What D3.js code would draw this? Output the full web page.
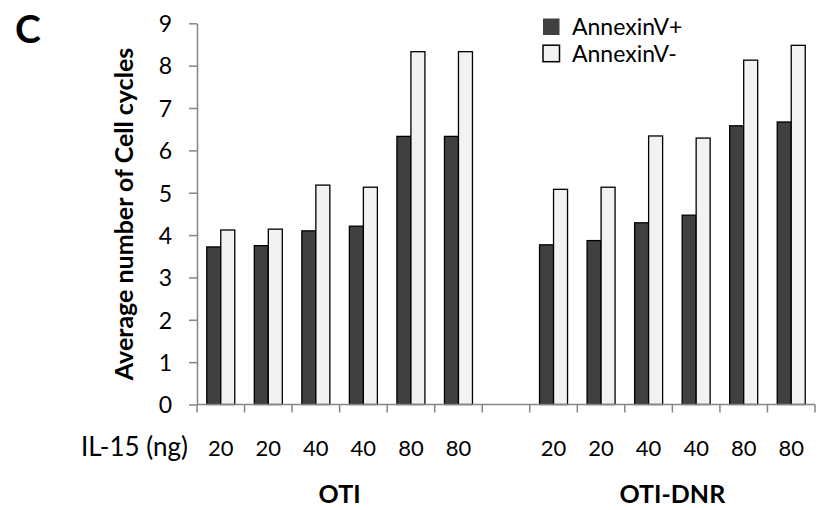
<!DOCTYPE html>
<html><head><meta charset="utf-8">
<script src="https://cdn.jsdelivr.net/npm/d3@7/dist/d3.min.js"></script>
<style>body{margin:0;background:#fff}svg{display:block}text{font-family:Lato,"Open Sans",sans-serif}</style>
</head><body>
<svg id="c" width="821" height="510"></svg>
<script>
const categories = ["OTI-1","OTI-2","OTI-3","OTI-4","OTI-5","OTI-6","gap","DNR-1","DNR-2","DNR-3","DNR-4","DNR-5","DNR-6"];
const tickLabels = ["20","20","40","40","80","80","","20","20","40","40","80","80"];
const annexinPos = [3.72,3.75,4.10,4.21,6.33,6.33,null,3.77,3.87,4.29,4.47,6.58,6.67];
const annexinNeg = [4.12,4.14,5.18,5.13,8.33,8.33,null,5.08,5.13,6.34,6.29,8.13,8.48];
const seriesNames = ["AnnexinV+","AnnexinV-"];
const groups = [{name:"OTI", from:0, to:5},{name:"OTI-DNR", from:7, to:12}];
const yTicks = [0,1,2,3,4,5,6,7,8,9];

const svg = d3.select("#c");
const x0 = 197, x1 = 815, y0 = 404.5, y1 = 23.3;
const x = d3.scaleBand().domain(categories).range([x0,x1]).paddingInner(0).paddingOuter(0);
const y = d3.scaleLinear().domain([0,9]).range([y0,y1]);
const barW = 14;
const colors = ["#404040","#f2f2f2"];
const axisColor = "#868686";

// bars
[annexinPos, annexinNeg].forEach((vals,si)=>{
  svg.append("g").selectAll("rect").data(categories.map((c,i)=>({c,v:vals[i]})).filter(d=>d.v!=null))
    .join("rect")
    .attr("x", d=>x(d.c)+x.bandwidth()/2 - barW + si*barW)
    .attr("y", d=>y(d.v))
    .attr("width", barW)
    .attr("height", d=>y(0)-y(d.v))
    .attr("fill", colors[si]).attr("stroke","#000").attr("stroke-width",1.3);
});

// y axis
const ya = svg.append("g").attr("transform",`translate(${x0},0)`)
  .call(d3.axisLeft(y).tickValues(yTicks).tickSize(8).tickPadding(17).tickSizeOuter(0));
ya.select(".domain").attr("stroke",axisColor).attr("stroke-width",1.5);
ya.selectAll(".tick line").attr("stroke",axisColor).attr("stroke-width",1.5);
ya.selectAll(".tick text").attr("font-size",23).attr("fill","#000").attr("font-family","Lato").attr("dy","0.36em");

// x axis
const xa = svg.append("g").attr("transform",`translate(0,${y0})`);
xa.append("line").attr("x1",x0).attr("x2",x1).attr("stroke",axisColor).attr("stroke-width",1.5);
const bounds = categories.map(c=>x(c)).concat([x1]);
xa.selectAll("line.t").data(bounds).join("line").attr("class","t")
  .attr("x1",d=>d).attr("x2",d=>d).attr("y1",0).attr("y2",8)
  .attr("stroke",axisColor).attr("stroke-width",1.5);
xa.selectAll("text.tl").data(categories).join("text").attr("class","tl")
  .attr("x",c=>x(c)+x.bandwidth()/2).attr("y",51)
  .attr("text-anchor","middle").attr("font-size",22).text((c,i)=>tickLabels[i]);
xa.append("text").attr("x",188).attr("y",51).attr("text-anchor","end").attr("font-size",26).text("IL-15 (ng)");

// group labels
svg.selectAll("text.g").data(groups).join("text").attr("class","g")
  .attr("x",d=>(x(categories[d.from])+x(categories[d.to])+x.bandwidth())/2)
  .attr("y",503).attr("text-anchor","middle").attr("font-weight","bold").attr("font-size",25)
  .text(d=>d.name);

// y label
svg.append("text").attr("transform",`translate(133,214) rotate(-90)`)
  .attr("text-anchor","middle").attr("font-weight","bold").attr("font-size",25)
  .text("Average number of Cell cycles");

// panel letter
svg.append("text").attr("x",15).attr("y",43).attr("font-weight","bold").attr("font-size",39).text("C");

// legend
const lg = svg.append("g");
seriesNames.forEach((n,i)=>{
  lg.append("rect").attr("x",543).attr("y",18.5+i*26.7).attr("width",16.5).attr("height",16.5)
    .attr("fill",colors[i]).attr("stroke", i===0?"none":"#000").attr("stroke-width",1.5);
  lg.append("text").attr("x",572).attr("y",35+i*26.7).attr("font-size",23).text(n);
});
</script>
</body></html>
